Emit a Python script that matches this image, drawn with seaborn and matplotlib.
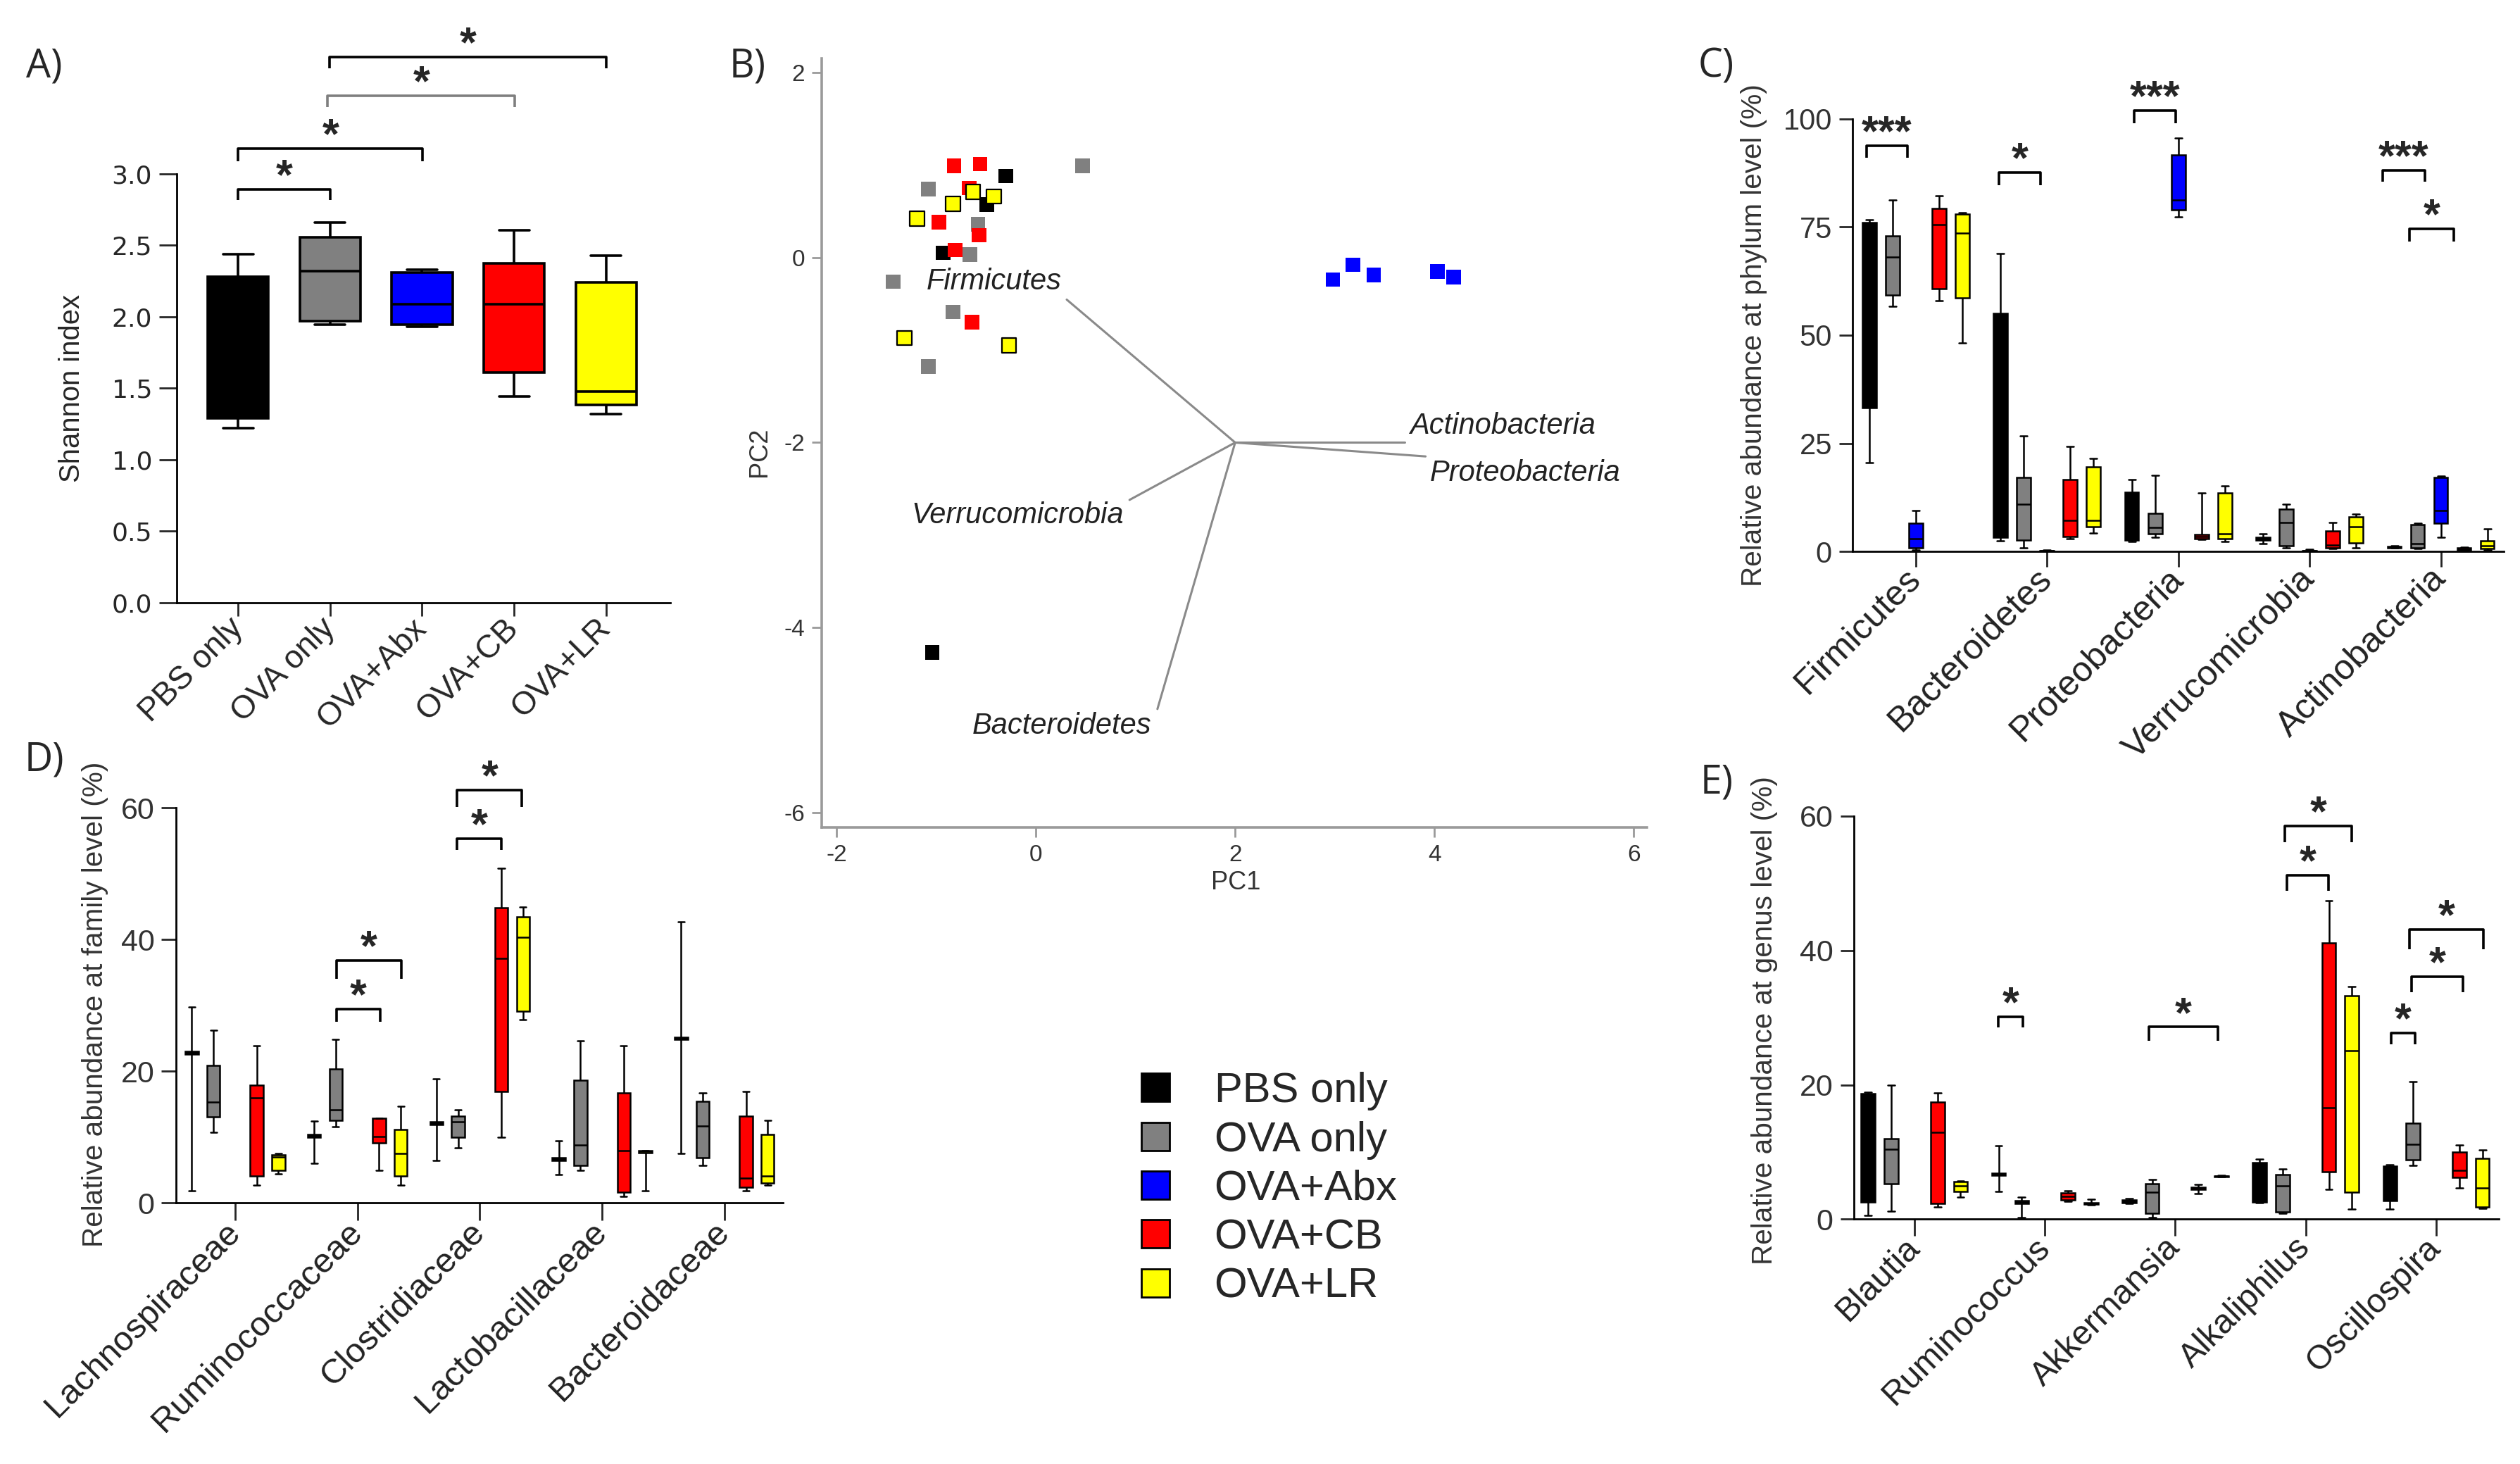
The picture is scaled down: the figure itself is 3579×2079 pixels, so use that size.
import numpy as np
import pandas as pd
import matplotlib
matplotlib.use("Agg")
import matplotlib.pyplot as plt
from matplotlib.lines import Line2D
import seaborn as sns

# groups and colours shared by all panels
groups = ["PBS only", "OVA only", "OVA+Abx", "OVA+CB", "OVA+LR"]
group_colors = ["#000000", "#808080", "#0000ff", "#ff0000", "#ffff00"]

# A) Shannon index, five-number summary per group: [low, Q1, median, Q3, high]
shannon_pbs = [1.22, 1.29, 1.90, 2.28, 2.44]
shannon_ova = [1.945, 1.97, 2.32, 2.555, 2.66]
shannon_abx = [1.93, 1.945, 2.09, 2.31, 2.33]
shannon_cb = [1.443, 1.61, 2.09, 2.375, 2.605]
shannon_lr = [1.32, 1.383, 1.478, 2.24, 2.43]

# B) PCA scores
pca_pbs_x = [-0.30, -0.49, -0.93, -1.04]
pca_pbs_y = [0.88, 0.57, 0.05, -4.27]
pca_ova_x = [-1.08, 0.47, -0.58, -0.66, -1.43, -0.83, -1.08]
pca_ova_y = [0.74, 0.99, 0.36, 0.03, -0.26, -0.59, -1.18]
pca_abx_x = [2.98, 3.18, 3.39, 4.03, 4.19]
pca_abx_y = [-0.24, -0.08, -0.19, -0.15, -0.21]
pca_cb_x = [-0.82, -0.56, -0.67, -0.97, -0.57, -0.81, -0.64]
pca_cb_y = [0.99, 1.01, 0.75, 0.38, 0.24, 0.08, -0.70]
pca_lr_x = [-1.19, -0.83, -0.63, -0.42, -1.32, -0.27]
pca_lr_y = [0.42, 0.58, 0.71, 0.66, -0.87, -0.95]

# B) loadings drawn from a common origin
loading_names = ["Firmicutes", "Actinobacteria", "Proteobacteria", "Verrucomicrobia", "Bacteroidetes"]
loading_x = [0.31, 3.70, 3.91, 0.94, 1.22]
loading_y = [-0.455, -2.0, -2.15, -2.62, -4.88]
loading_origin = (2.0, -2.0)
loading_label_x = [-0.42, 4.68, 4.91, -0.18, 0.26]
loading_label_y = [-0.26, -1.82, -2.33, -2.79, -5.06]

# C) phylum level, per group one [low, Q1, median, Q3, high] per phylum
phyla = ["Firmicutes", "Bacteroidetes", "Proteobacteria", "Verrucomicrobia", "Actinobacteria"]
phylum_pbs = [[20.5, 33.3, 60.0, 76.0, 76.6], [2.5, 3.3, 10.5, 55.1, 68.8], [2.4, 2.7, 5.9, 13.8, 16.7],
              [1.8, 2.7, 3.0, 3.3, 4.1], [0.8, 0.9, 1.0, 1.2, 1.3]]
phylum_ova = [[56.7, 59.3, 68.0, 72.9, 81.3], [0.9, 2.7, 10.9, 17.2, 26.7], [3.3, 4.1, 5.6, 8.9, 17.7],
              [0.9, 1.3, 6.7, 9.9, 10.9], [0.7, 0.9, 1.8, 6.2, 6.5]]
phylum_abx = [[0.4, 0.9, 3.0, 6.6, 9.5], [0.0, 0.1, 0.2, 0.3, 0.4], [77.3, 79.0, 81.3, 91.6, 95.6],
              [0.0, 0.1, 0.2, 0.3, 0.5], [3.3, 6.5, 9.5, 17.2, 17.4]]
phylum_cb = [[57.9, 60.7, 75.6, 79.2, 82.2], [3.0, 3.5, 7.2, 16.6, 24.3], [2.8, 3.0, 3.5, 4.0, 13.5],
             [0.7, 0.9, 1.5, 4.8, 6.7], [0.2, 0.4, 0.6, 0.9, 1.1]]
phylum_lr = [[48.2, 58.7, 73.6, 78.0, 78.3], [4.3, 5.8, 7.2, 19.5, 21.6], [2.3, 3.0, 4.1, 13.5, 15.2],
             [0.9, 2.0, 5.8, 8.0, 8.6], [0.4, 0.7, 1.3, 2.5, 5.3]]

# D) family level (no OVA+Abx)
families = ["Lachnospiraceae", "Ruminococcaceae", "Clostridiaceae", "Lactobacillaceae", "Bacteroidaceae"]
family_pbs = [[1.9, 22.6, 22.8, 23.0, 29.8], [6.0, 10.0, 10.2, 10.4, 12.4], [6.5, 11.9, 12.1, 12.3, 18.9],
              [4.3, 6.5, 6.7, 6.9, 9.5], [7.5, 24.8, 25.0, 25.2, 42.7]]
family_ova = [[10.7, 13.1, 15.3, 20.9, 26.2], [11.6, 12.5, 14.2, 20.4, 24.9], [8.4, 10.0, 12.3, 13.2, 14.2],
              [5.0, 5.7, 8.8, 18.6, 24.6], [5.7, 6.9, 11.7, 15.4, 16.7]]
family_cb = [[2.7, 4.1, 16.0, 17.9, 23.9], [5.0, 9.1, 10.1, 12.9, 12.9], [10.0, 16.9, 37.1, 44.8, 50.8],
             [1.0, 1.6, 7.9, 16.7, 23.9], [1.9, 2.4, 3.8, 13.2, 16.9]]
family_lr = [[4.4, 5.0, 7.0, 7.3, 7.5], [2.7, 4.1, 7.5, 11.2, 14.7], [27.8, 29.1, 40.4, 43.5, 45.0],
             [1.9, 7.6, 7.8, 7.9, 7.9], [2.7, 3.0, 4.1, 10.4, 12.5]]

# E) genus level (no OVA+Abx)
genera = ["Blautia", "Ruminococcus", "Akkermansia", "Alkaliphilus", "Oscillospira"]
genus_pbs = [[0.55, 2.6, 10.0, 18.7, 18.9], [4.1, 6.5, 6.7, 6.9, 10.9], [2.3, 2.5, 2.7, 2.9, 3.1],
             [2.5, 2.6, 5.0, 8.4, 9.0], [1.5, 2.8, 5.0, 7.9, 8.1]]
genus_ova = [[1.2, 5.3, 10.4, 12.0, 20.0], [0.2, 2.3, 2.6, 2.8, 3.3], [0.2, 0.9, 4.0, 5.3, 5.9],
             [0.9, 1.1, 5.0, 6.6, 7.5], [8.0, 8.8, 11.1, 14.3, 20.5]]
genus_cb = [[1.8, 2.3, 12.9, 17.4, 18.8], [2.7, 2.9, 3.4, 3.9, 4.2], [3.8, 4.4, 4.6, 4.8, 5.2],
            [4.4, 7.1, 16.6, 41.1, 47.4], [4.6, 6.2, 7.3, 10.0, 11.0]]
genus_lr = [[3.3, 4.1, 5.0, 5.6, 5.7], [2.1, 2.2, 2.3, 2.4, 3.0], [6.3, 6.35, 6.4, 6.45, 6.5],
            [1.5, 4.0, 25.1, 33.3, 34.6], [1.6, 1.8, 4.7, 9.1, 10.3]]

# significance brackets: (x start, x end, bracket top, bracket end, label)
sig_A = [(0.0, 1.0, 2.89, 2.82, "*", "black"), (0.0, 2.005, 3.176, 3.09, "*", "black"),
         (0.973, 3.01, 3.546, 3.467, "*", "#7f7f7f"), (0.993, 4.0, 3.82, 3.74, "*", "black")]
sig_C = [(-0.371, -0.065, 93.7, 91.0, "***"), (0.637, 0.951, 87.5, 84.6, "*"),
         (1.665, 1.98, 101.9, 99.0, "***"), (3.555, 3.878, 88.0, 85.4, "***"),
         (3.763, 4.098, 74.5, 71.6, "*")]
sig_D = [(0.827, 1.186, 29.5, 27.5, "*"), (0.827, 1.359, 36.8, 34.1, "*"),
         (1.814, 2.177, 55.3, 53.6, "*"), (1.814, 2.346, 62.7, 60.1, "*")]
sig_E = [(0.641, 0.833, 30.1, 28.5, "*"), (1.796, 2.327, 28.6, 26.6, "*"),
         (2.857, 3.176, 51.2, 48.9, "*"), (2.841, 3.355, 58.5, 56.1, "*"),
         (3.657, 3.837, 27.7, 26.0, "*"), (3.812, 4.204, 36.1, 33.8, "*"),
         (3.796, 4.359, 43.1, 40.2, "*")]

palette = dict(zip(groups, group_colors))
STAR_FS = 22

sns.set_theme(style="ticks")
plt.rcParams["font.family"] = ["Liberation Sans", "DejaVu Sans"]
plt.rcParams["axes.linewidth"] = 1.0
plt.rcParams["axes.edgecolor"] = "black"
plt.rcParams["axes.unicode_minus"] = False


def long_table(taxa, series):
    rows = []
    for grp, boxes in series.items():
        for taxon, five in zip(taxa, boxes):
            for v in five:
                rows.append((taxon, grp, v))
    return pd.DataFrame(rows, columns=["taxon", "group", "value"])


def add_brackets(ax, brackets, star_offset=12.6):
    for b in brackets:
        x1, x2, y, yend, label = b[:5]
        color = b[5] if len(b) > 5 else "black"
        ax.plot([x1, x1, x2, x2], [yend, y, y, yend], color=color, lw=1.3, clip_on=False,
                solid_capstyle="butt")
        ax.annotate(label, xy=((x1 + x2) / 2, y), xytext=(0, star_offset - 0.56 * STAR_FS),
                    textcoords="offset points", ha="center", va="baseline", fontsize=STAR_FS,
                    fontweight="bold", annotation_clip=False)


def grouped_boxes(ax, taxa, series, ylim, yticks, xlim, ylabel, label_xy,
                  ytick_fs, xtick_fs, xtick_len, ytick_len):
    df = long_table(taxa, series)
    sns.boxplot(data=df, x="taxon", y="value", hue="group", order=taxa, hue_order=groups,
                palette=palette, saturation=1, width=0.885, gap=0.4, whis=(0, 100),
                linecolor="black", linewidth=0.9, legend=False, ax=ax)
    sns.despine(ax=ax)
    ax.set_xlim(*xlim)
    ax.set_ylim(*ylim)
    ax.set_yticks(yticks)
    ax.set_xlabel("")
    ax.set_ylabel(ylabel, fontsize=14.6, color="#333333", va="center")
    ax.yaxis.set_label_coords(*label_xy)
    ax.tick_params(axis="y", length=ytick_len, width=1.0, labelsize=ytick_fs, labelcolor="#333333")
    ax.tick_params(axis="x", length=xtick_len, width=1.0, labelsize=xtick_fs, labelcolor="#222222")
    plt.setp(ax.get_xticklabels(), rotation=45, ha="right", va="center", rotation_mode="anchor")


fig = plt.figure(figsize=(17.895, 10.395), dpi=200)

# ---- A) Shannon index
axA = fig.add_axes([0.0701, 0.5883, 0.1959, 0.2929])
dfA = pd.DataFrame({
    "group": np.repeat(groups, 5),
    "value": np.concatenate([shannon_pbs, shannon_ova, shannon_abx, shannon_cb, shannon_lr]),
})
sns.boxplot(data=dfA, x="group", y="value", hue="group", order=groups, hue_order=groups,
            palette=palette, saturation=1, width=0.66, whis=(0, 100), linecolor="black",
            linewidth=1.3, legend=False, ax=axA)
sns.despine(ax=axA)
axA.set_xlim(-0.67, 4.7)
axA.set_ylim(0, 3.0)
axA.set_yticks(np.arange(0, 3.01, 0.5))
axA.yaxis.set_major_formatter("{x:.1f}")
axA.set_xlabel("")
axA.set_ylabel("Shannon index", fontsize=14.4, va="center")
axA.yaxis.set_label_coords(-0.213, 0.5)
axA.tick_params(axis="y", length=9, width=1.0, labelsize=13, labelfontfamily="DejaVu Sans")
axA.tick_params(axis="x", length=7, width=1.0, labelsize=16.5)
plt.setp(axA.get_xticklabels(), rotation=45, ha="right", va="center", rotation_mode="anchor")
add_brackets(axA, sig_A)

# ---- B) PCA biplot
axB = fig.add_axes([0.326, 0.4348, 0.3275, 0.5252])
dfB = pd.DataFrame({
    "group": np.repeat(groups, [len(pca_pbs_x), len(pca_ova_x), len(pca_abx_x), len(pca_cb_x), len(pca_lr_x)]),
    "pc1": np.concatenate([pca_pbs_x, pca_ova_x, pca_abx_x, pca_cb_x, pca_lr_x]),
    "pc2": np.concatenate([pca_pbs_y, pca_ova_y, pca_abx_y, pca_cb_y, pca_lr_y]),
})
for lx, ly in zip(loading_x, loading_y):
    axB.plot([loading_origin[0], lx], [loading_origin[1], ly], color="#8a8a8a", lw=1.1, zorder=1)
sns.scatterplot(data=dfB[dfB.group != "OVA+LR"], x="pc1", y="pc2", hue="group", hue_order=groups,
                palette=palette, marker="s", s=55, linewidth=0, legend=False, ax=axB, zorder=3)
sns.scatterplot(data=dfB[dfB.group == "OVA+LR"], x="pc1", y="pc2", hue="group", hue_order=groups,
                palette=palette, marker="s", s=55, edgecolor="black", linewidth=0.8, legend=False,
                ax=axB, zorder=4)
for name, tx, ty in zip(loading_names, loading_label_x, loading_label_y):
    axB.text(tx, ty, name, fontsize=15, style="italic", color="#222222", ha="center", va="center", zorder=5)
sns.despine(ax=axB)
for side in ["left", "bottom"]:
    axB.spines[side].set_color("#9a9a9a")
    axB.spines[side].set_linewidth(1.3)
axB.set_xlim(-2.15, 6.13)
axB.set_ylim(-6.16, 2.15)
axB.set_xticks([-2, 0, 2, 4, 6])
axB.set_yticks([-6, -4, -2, 0, 2])
axB.tick_params(length=5, width=1.0, color="#9a9a9a", labelsize=12, labelcolor="#333333")
axB.set_xlabel("PC1", fontsize=13, color="#333333", va="center")
axB.set_ylabel("PC2", fontsize=13, color="#333333", va="center")
axB.xaxis.set_label_coords(0.502, -0.072)
axB.yaxis.set_label_coords(-0.075, 0.488)

# ---- C) phylum level
axC = fig.add_axes([0.735, 0.6232, 0.2586, 0.2957])
grouped_boxes(axC, phyla, dict(zip(groups, [phylum_pbs, phylum_ova, phylum_abx, phylum_cb, phylum_lr])),
              (0, 100), [0, 25, 50, 75, 100], (-0.483, 4.48), "Relative abundance at phylum level (%)",
              (-0.151, 0.5), 15, 18, 7.8, 6.8)
add_brackets(axC, sig_C)

# ---- D) family level
axD = fig.add_axes([0.0699, 0.1783, 0.2407, 0.2698])
grouped_boxes(axD, families, dict(zip(["PBS only", "OVA only", "OVA+CB", "OVA+LR"],
                                      [family_pbs, family_ova, family_cb, family_lr])),
              (0, 60), [0, 20, 40, 60], (-0.482, 4.477), "Relative abundance at family level (%)",
              (-0.134, 0.502), 15.5, 17.5, 9, 7.5)
add_brackets(axD, sig_D)

# ---- E) genus level
axE = fig.add_axes([0.7356, 0.1672, 0.256, 0.2754])
grouped_boxes(axE, genera, dict(zip(["PBS only", "OVA only", "OVA+CB", "OVA+LR"],
                                    [genus_pbs, genus_ova, genus_cb, genus_lr])),
              (0, 60), [0, 20, 40, 60], (-0.465, 4.48), "Relative abundance at genus level (%)",
              (-0.1386, 0.493), 15.5, 17.3, 8.6, 7.0)
add_brackets(axE, sig_E)

# ---- shared legend
handles = [Line2D([], [], marker="s", linestyle="none", markersize=14.5, markerfacecolor=c,
                  markeredgecolor="black", markeredgewidth=1.0) for c in group_colors]
fig.legend(handles, groups, loc="center left", bbox_to_anchor=(0.4515, 0.1879), frameon=False,
           fontsize=21.5, handlelength=0.84, handletextpad=0.98, labelspacing=0.24, borderpad=0,
           borderaxespad=0)

# panel letters
for letter, px, py in [("A)", 0.0103, 0.9678), ("B)", 0.2895, 0.9678), ("C)", 0.6737, 0.9678),
                       ("D)", 0.0098, 0.494), ("E)", 0.6748, 0.479)]:
    fig.text(px, py, letter, fontsize=20, family="Open Sans", ha="left", va="top")

fig.savefig("out.png", dpi=200)
